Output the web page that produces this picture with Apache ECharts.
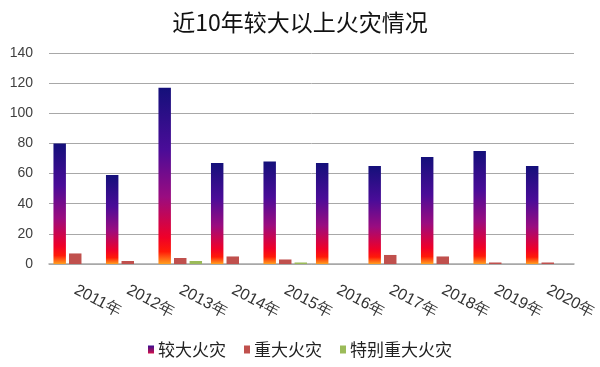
<!DOCTYPE html>
<html><head><meta charset="utf-8">
<script src="https://cdn.jsdelivr.net/npm/echarts@6/dist/echarts.min.js"></script>
<style>html,body{margin:0;padding:0;background:#fff}#c{width:600px;height:367px}</style>
</head><body><div id="c"></div>
<script>
var titleText = '近10年较大以上火灾情况';
var categories = ['2011年','2012年','2013年','2014年','2015年','2016年','2017年','2018年','2019年','2020年'];
var seriesNames = ['较大火灾','重大火灾','特别重大火灾'];
var majorFires = [80, 59, 117, 67, 68, 67, 65, 71, 75, 65];
var seriousFires = [7, 2, 4, 5, 3, 0, 6, 5, 1, 1];
var extraFires = [0, 0, 2, 0, 1, 0, 0, 0, 0, 0];
var yTicks = [0, 20, 40, 60, 80, 100, 120, 140];

var grad = new echarts.graphic.LinearGradient(0, 0, 0, 1, [
  {offset: 0, color: '#14107a'},
  {offset: 0.35, color: '#4a0c98'},
  {offset: 0.62, color: '#9a0c80'},
  {offset: 0.85, color: '#f00028'},
  {offset: 0.93, color: '#ff1a08'},
  {offset: 1, color: '#ffa020'}
]);
var legendGrad = new echarts.graphic.LinearGradient(0, 0, 0, 1, [
  {offset: 0, color: '#3a0c90'},
  {offset: 1, color: '#d0104a'}
]);

var chart = echarts.init(document.getElementById('c'));
chart.setOption({
  animation: false,
  backgroundColor: '#fff',
  title: {
    text: titleText,
    left: 'center', top: 6,
    textStyle: {fontFamily: 'Noto Sans CJK SC', fontWeight: 'normal', fontSize: 23, color: '#111'}
  },
  legend: {
    bottom: 4, left: 'center',
    itemWidth: 6, itemHeight: 8, itemGap: 18,
    icon: 'rect',
    textStyle: {fontFamily: 'Noto Sans CJK SC', fontSize: 17, color: '#222', padding: [0,0,0,-1]},
    data: [
      {name: seriesNames[0], itemStyle: {color: legendGrad}},
      {name: seriesNames[1]},
      {name: seriesNames[2]}
    ]
  },
  grid: {left: 49, right: 26, top: 53, bottom: 103},
  xAxis: {
    type: 'category', data: categories,
    axisLine: {lineStyle: {color: '#a8a8a8', width: 1.5}},
    axisTick: {show: false},
    axisLabel: {rotate: -28, margin: 25, fontFamily: 'Liberation Sans', fontSize: 16, color: '#333', interval: 0}
  },
  yAxis: {
    type: 'value', min: yTicks[0], max: yTicks[yTicks.length-1], interval: 20,
    axisLine: {show: false}, axisTick: {show: false},
    splitLine: {lineStyle: {color: '#a8a8a8', width: 1}},
    axisLabel: {fontFamily: 'Liberation Sans', fontSize: 14, color: '#404040', margin: 16}
  },
  series: [
    {name: seriesNames[0], type: 'bar', data: majorFires, itemStyle: {color: grad}, barCategoryGap: '17%', barGap: '25%'},
    {name: seriesNames[1], type: 'bar', data: seriousFires, itemStyle: {color: '#c0504d'}},
    {name: seriesNames[2], type: 'bar', data: extraFires, itemStyle: {color: '#9bbb59'}}
  ]
});
</script></body></html>
